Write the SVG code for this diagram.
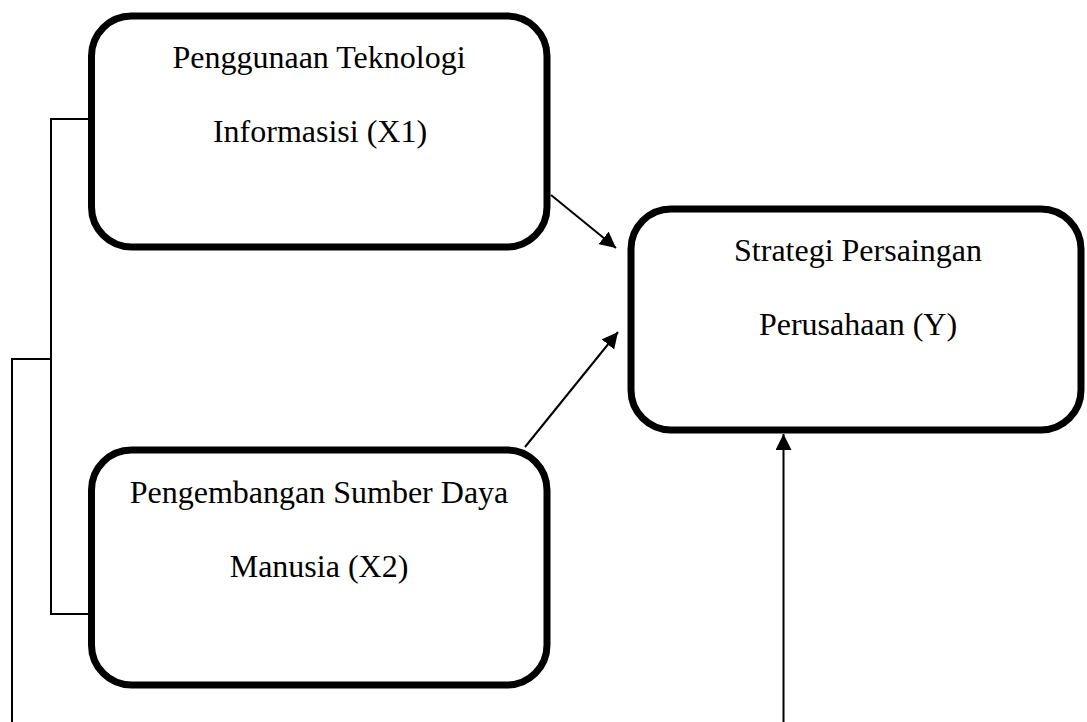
<svg xmlns="http://www.w3.org/2000/svg" width="1087" height="722" viewBox="0 0 1087 722">
<style>
.box{fill:#fff;stroke:#000;stroke-width:7}
.lbl{font-family:"Liberation Serif","Times New Roman",serif;font-size:32px;fill:#000;text-anchor:middle}
.ln{fill:none;stroke:#000;stroke-width:2}
</style>
<defs>
<marker id="ah" viewBox="0 0 10 10" refX="10" refY="5" markerWidth="16" markerHeight="16" markerUnits="userSpaceOnUse" orient="auto">
<path d="M0,0 L10,5 L0,10 z" fill="#000"/>
</marker>
</defs>
<rect width="1087" height="722" fill="#fff"/>
<g id="connectors">
<polyline class="ln" points="89,119 51,119 51,614 89,614"/>
<polyline class="ln" points="51,359 12,359 12,722"/>
<line class="ln" x1="551" y1="195" x2="616" y2="248" marker-end="url(#ah)"/>
<line class="ln" x1="525" y1="447" x2="618" y2="332" marker-end="url(#ah)"/>
<line class="ln" x1="783.5" y1="722" x2="783.5" y2="434" marker-end="url(#ah)"/>
</g>
<g id="x1">
<rect class="box" x="91.5" y="16" width="455.5" height="231" rx="40"/>
<text class="lbl" x="319" y="68">Penggunaan Teknologi</text>
<text class="lbl" x="320" y="142">Informasisi (X1)</text>
</g>
<g id="y">
<rect class="box" x="631" y="209" width="450" height="221" rx="40"/>
<text class="lbl" x="858" y="261">Strategi Persaingan</text>
<text class="lbl" x="858" y="335">Perusahaan (Y)</text>
</g>
<g id="x2">
<rect class="box" x="91.5" y="450" width="455.5" height="235" rx="40"/>
<text class="lbl" x="319" y="503">Pengembangan Sumber Daya</text>
<text class="lbl" x="319" y="577">Manusia (X2)</text>
</g>
</svg>
